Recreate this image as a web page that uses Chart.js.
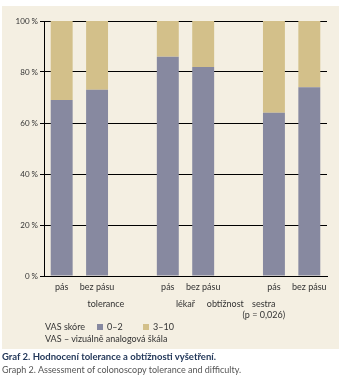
<!DOCTYPE html>
<html>
<head>
<meta charset="utf-8">
<script src="https://cdn.jsdelivr.net/npm/chart.js@4"></script>
<style>
  body { margin: 0; background: #fff; width: 343px; height: 385px; position: relative; font-family: Lato, 'Open Sans', sans-serif; }
  #panel { position: absolute; left: 2px; top: 6px; width: 337px; height: 343px; background: #f4efe2; }
  #wrap { position: absolute; left: 0; top: 0; width: 343px; height: 322px; }
  .txt { position: absolute; font-size: 9px; color: #333; white-space: nowrap; }
  .sw { display: inline-block; width: 6px; height: 6px; margin-right: 4px; vertical-align: 0px; }
  .cap1 { left: 2px; top: 351px; font-size: 9.5px; font-weight: bold; color: #23385a; }
  .cap2 { left: 2px; top: 364px; font-size: 9px; color: #555; }
</style>
</head>
<body>
<div id="panel"></div>
<div id="wrap"><canvas id="chartVas"></canvas></div>
<div class="txt" style="left:45px; top:321px;">VAS skóre</div>
<div class="txt" style="left:97px; top:321px;"><span class="sw" id="sw1"></span>0–2</div>
<div class="txt" style="left:143px; top:321px;"><span class="sw" id="sw2"></span>3–10</div>
<div class="txt" style="left:45px; top:333px;">VAS – vizuálně analogová škála</div>
<div class="txt cap1">Graf 2. Hodnocení tolerance a obtížnosti vyšetření.</div>
<div class="txt cap2">Graph 2. Assessment of colonoscopy tolerance and difficulty.</div>
<script>
const categories = ['pás', 'bez pásu', '', 'pás', 'bez pásu', '', 'pás', 'bez pásu'];
const score02 = [69, 73, null, 86, 82, null, 64, 74];
const score310 = [31, 27, null, 14, 18, null, 36, 26];
const groupLabels = ['tolerance', 'lékař', 'obtížnost', ['sestra', '(p = 0,026)']];
const groupSlots = [0.5, 3.5, 5, 6.45];
const yTicks = [0, 20, 40, 60, 80, 100];

const blue = '#8789a0';
const tan = '#d3c08a';
document.getElementById('sw1').style.background = blue;
document.getElementById('sw2').style.background = tan;

Chart.defaults.font.family = "Lato, 'Open Sans', sans-serif";
Chart.defaults.color = '#333';

const ctx = document.getElementById('chartVas').getContext('2d');
const chartVas = new Chart(ctx, {
    type: 'bar',
    data: {
        labels: categories,
        datasets: [{
            label: '0–2',
            data: score02,
            backgroundColor: blue,
            barPercentage: 0.62,
            categoryPercentage: 1
        }, {
            label: '3–10',
            data: score310,
            backgroundColor: tan,
            barPercentage: 0.62,
            categoryPercentage: 1
        }]
    },
    options: {
        responsive: true,
        maintainAspectRatio: false,
        animation: false,
        layout: { padding: { left: 0, right: 16, top: 21, bottom: 0 } },
        plugins: {
            legend: { display: false },
            tooltip: { enabled: false }
        },
        scales: {
            x: {
                stacked: true,
                weight: 0,
                grid: { display: false, drawTicks: false },
                border: { display: true, color: '#000', width: 1 },
                ticks: { font: { size: 9 }, padding: 6, maxRotation: 0, autoSkip: false },
                afterFit: scale => { scale.height = 18; }
            },
            x2: {
                type: 'linear',
                position: 'bottom',
                weight: 1,
                min: -0.5,
                max: 7.5,
                grid: { display: false, drawTicks: false },
                border: { display: false },
                afterBuildTicks: scale => { scale.ticks = groupSlots.map(v => ({ value: v })); },
                ticks: {
                    font: { size: 9, lineHeight: 1.3 },
                    padding: 4,
                    maxRotation: 0,
                    autoSkip: false,
                    callback: (value, index) => groupLabels[index]
                },
                afterFit: scale => { scale.height = 28; }
            },
            y: {
                stacked: true,
                min: 0,
                max: 100,
                afterBuildTicks: scale => { scale.ticks = yTicks.map(v => ({ value: v })); },
                grid: {
                    color: '#000',
                    lineWidth: 1,
                    borderDash: [1, 2],
                    tickLength: 4,
                    tickColor: '#000',
                    tickBorderDash: []
                },
                border: { display: true, color: '#000', width: 1 },
                ticks: {
                    font: { size: 8 },
                    padding: 2,
                    callback: v => v + ' %'
                },
                afterFit: scale => { scale.width = 44; }
            }
        }
    }
});
</script>
</body>
</html>
